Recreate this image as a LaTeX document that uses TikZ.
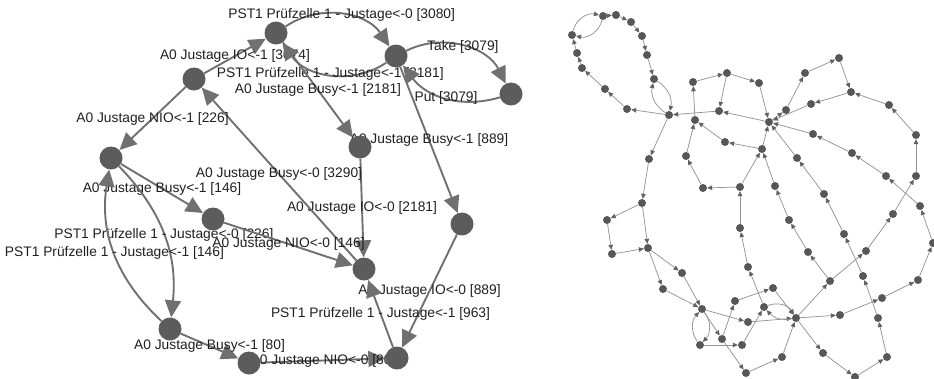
\documentclass[tikz,border=0pt]{standalone}
\usepackage{fontspec}
\setmainfont{Liberation Sans}
\usetikzlibrary{arrows.meta}
\pgfdeclarelayer{edges}
\pgfsetlayers{edges,main}
\tikzset{
    big state/.style={
        circle, fill=black!64, inner sep=0pt, minimum size=23pt
    },
    big edge/.style={
        draw=black!56, line width=1.9pt,
        -{Triangle[length=17pt, width=16pt]}
    },
    edge label/.style={
        midway, inner sep=0pt, text=black!88,
        font=\fontsize{13.8}{16}\selectfont
    },
    small state/.style={
        circle, fill=black!66, inner sep=0pt, minimum size=8pt
    },
    small edge/.style={
        draw=black!42, line width=0.75pt,
        -{Triangle[length=5pt, width=4.5pt, color=black!62]}
    }
}

\begin{document}
\begin{tikzpicture}[x=1pt, y=-1pt]
                \useasboundingbox (0,0) rectangle (934,378);
                % left graph: the states with their labelled transitions
                \node[big state] (L1) at (194, 79) {};
                \node[big state] (L2) at (276, 33) {};
                \node[big state] (L3) at (396, 56) {};
                \node[big state] (L4) at (511, 94) {};
                \node[big state] (L5) at (360, 147) {};
                \node[big state] (L6) at (111, 158) {};
                \node[big state] (L7) at (213, 219) {};
                \node[big state] (L8) at (462, 224) {};
                \node[big state] (L9) at (364, 269) {};
                \node[big state] (L10) at (170, 329) {};
                \node[big state] (L11) at (249, 363) {};
                \node[big state] (L12) at (397, 358) {};
                \begin{pgfonlayer}{edges}
                    \draw[big edge] (L1) -- node[edge label] {A0 Justage IO<-1 [3074]} (L2);
                    \draw[big edge] (L2) to[bend left=45] node[edge label] {PST1 Prüfzelle 1 - Justage<-0 [3080]} (L3);
                    \draw[big edge] (L3) to[bend left=45] node[edge label] {PST1 Prüfzelle 1 - Justage<-1 [2181]} (L2);
                    \draw[big edge] (L2) -- node[edge label] {A0 Justage Busy<-1 [2181]} (L5);
                    \draw[big edge] (L3) to[bend left=45] node[edge label] {Take [3079]} (L4);
                    \draw[big edge] (L4) to[bend left=35] node[edge label] {Put [3079]} (L3);
                    \draw[big edge] (L3) -- node[edge label] {A0 Justage Busy<-1 [889]} (L8);
                    \draw[big edge] (L5) -- node[edge label] {A0 Justage IO<-0 [2181]} (L9);
                    \draw[big edge] (L9) -- node[edge label] {A0 Justage Busy<-0 [3290]} (L1);
                    \draw[big edge] (L1) -- node[edge label] {A0 Justage NIO<-1 [226]} (L6);
                    \draw[big edge] (L6) -- node[edge label] {A0 Justage Busy<-1 [146]} (L7);
                    \draw[big edge] (L6) to[bend left=25] node[edge label] {PST1 Prüfzelle 1 - Justage<-0 [226]} (L10);
                    \draw[big edge] (L10) to[bend left=28] node[edge label] {PST1 Prüfzelle 1 - Justage<-1 [146]} (L6);
                    \draw[big edge] (L7) -- node[edge label] {A0 Justage NIO<-0 [146]} (L9);
                    \draw[big edge] (L10) -- node[edge label] {A0 Justage Busy<-1 [80]} (L11);
                    \draw[big edge] (L11) -- node[edge label] {A0 Justage NIO<-0 [80]} (L12);
                    \draw[big edge] (L8) -- node[edge label] {A0 Justage IO<-0 [889]} (L12);
                    \draw[big edge] (L12) -- node[edge label] {PST1 Prüfzelle 1 - Justage<-1 [963]} (L9);
                \end{pgfonlayer}
                % right graph: the full state space, unlabelled
                \node[small state] (R1) at (572, 35) {};
                \node[small state] (R2) at (603, 16) {};
                \node[small state] (R3) at (616, 15) {};
                \node[small state] (R4) at (631, 22) {};
                \node[small state] (R5) at (642, 36) {};
                \node[small state] (R6) at (647, 55) {};
                \node[small state] (R7) at (654, 79) {};
                \node[small state] (R8) at (669, 115) {};
                \node[small state] (R9) at (627, 109) {};
                \node[small state] (R10) at (605, 89) {};
                \node[small state] (R11) at (582, 68) {};
                \node[small state] (R12) at (577, 53) {};
                \node[small state] (R13) at (693, 82) {};
                \node[small state] (R14) at (727, 73) {};
                \node[small state] (R15) at (719, 111) {};
                \node[small state] (R16) at (695, 120) {};
                \node[small state] (R17) at (725, 142) {};
                \node[small state] (R18) at (686, 156) {};
                \node[small state] (R19) at (703, 188) {};
                \node[small state] (R20) at (740, 187) {};
                \node[small state] (R21) at (649, 159) {};
                \node[small state] (R22) at (769, 122) {};
                \node[small state] (R23) at (759, 83) {};
                \node[small state] (R24) at (786, 110) {};
                \node[small state] (R25) at (805, 73) {};
                \node[small state] (R26) at (839, 58) {};
                \node[small state] (R27) at (851, 92) {};
                \node[small state] (R28) at (811, 104) {};
                \node[small state] (R29) at (889, 105) {};
                \node[small state] (R30) at (916, 135) {};
                \node[small state] (R31) at (916, 176) {};
                \node[small state] (R32) at (813, 134) {};
                \node[small state] (R33) at (852, 153) {};
                \node[small state] (R34) at (886, 176) {};
                \node[small state] (R35) at (762, 149) {};
                \node[small state] (R36) at (797, 158) {};
                \node[small state] (R37) at (775, 186) {};
                \node[small state] (R38) at (740, 228) {};
                \node[small state] (R39) at (748, 267) {};
                \node[small state] (R40) at (764, 307) {};
                \node[small state] (R41) at (642, 203) {};
                \node[small state] (R42) at (607, 220) {};
                \node[small state] (R43) at (612, 254) {};
                \node[small state] (R44) at (648, 248) {};
                \node[small state] (R45) at (682, 273) {};
                \node[small state] (R46) at (663, 289) {};
                \node[small state] (R47) at (702, 309) {};
                \node[small state] (R48) at (735, 301) {};
                \node[small state] (R49) at (748, 322) {};
                \node[small state] (R50) at (700, 345) {};
                \node[small state] (R51) at (722, 339) {};
                \node[small state] (R52) at (742, 345) {};
                \node[small state] (R53) at (746, 373) {};
                \node[small state] (R54) at (773, 288) {};
                \node[small state] (R55) at (782, 357) {};
                \node[small state] (R56) at (796, 318) {};
                \node[small state] (R57) at (789, 220) {};
                \node[small state] (R58) at (808, 252) {};
                \node[small state] (R59) at (830, 281) {};
                \node[small state] (R60) at (824, 194) {};
                \node[small state] (R61) at (844, 234) {};
                \node[small state] (R62) at (863, 276) {};
                \node[small state] (R63) at (878, 318) {};
                \node[small state] (R64) at (887, 357) {};
                \node[small state] (R65) at (855, 377) {};
                \node[small state] (R66) at (823, 353) {};
                \node[small state] (R67) at (840, 315) {};
                \node[small state] (R68) at (882, 298) {};
                \node[small state] (R69) at (918, 280) {};
                \node[small state] (R70) at (933, 243) {};
                \node[small state] (R71) at (920, 206) {};
                \node[small state] (R72) at (866, 251) {};
                \node[small state] (R73) at (893, 214) {};
                \begin{pgfonlayer}{edges}
                    \foreach \from/\to in {
                        R2/R3, R3/R4, R4/R5, R5/R6, R6/R7,
                        R8/R9, R9/R10, R10/R11, R11/R12, R12/R1,
                        R16/R13, R13/R14, R14/R15, R15/R8, R17/R16, R18/R16,
                        R19/R18, R20/R19, R8/R21, R14/R23, R23/R22, R22/R15,
                        R22/R24, R24/R25, R25/R26, R26/R27, R27/R28, R28/R22,
                        R29/R27, R30/R29, R31/R30, R34/R33, R33/R32, R32/R22,
                        R35/R17, R35/R22, R20/R35, R37/R35, R36/R22, R60/R36,
                        R38/R20, R39/R38, R40/R39,
                        R21/R41, R41/R42, R42/R43, R43/R44, R41/R44,
                        R44/R45, R44/R46, R45/R47, R46/R47, R47/R49, R49/R56,
                        R50/R52, R52/R40, R47/R51, R51/R53, R51/R48,
                        R48/R54, R54/R56, R53/R55, R55/R56,
                        R56/R59, R59/R58, R58/R57, R57/R37,
                        R59/R72, R72/R73, R73/R31,
                        R56/R66, R66/R65, R65/R64, R64/R63, R63/R62, R62/R61, R61/R60,
                        R56/R67, R67/R68, R68/R69, R69/R70, R70/R71, R71/R34}
                        \draw[small edge] (\from) -- (\to);
                    \draw[small edge] (R1) to[bend left=45] (R2);
                    \draw[small edge] (R2) to[bend left=45] (R1);
                    \draw[small edge] (R7) to[bend left=35] (R8);
                    \draw[small edge] (R8) to[bend left=35] (R7);
                    \draw[small edge] (R47) to[bend left=40] (R50);
                    \draw[small edge] (R50) to[bend left=40] (R47);
                    \draw[small edge] (R40) to[bend left=40] (R56);
                    \draw[small edge] (R56) to[bend left=30] (R40);
                \end{pgfonlayer}
            \end{tikzpicture}
\end{document}
